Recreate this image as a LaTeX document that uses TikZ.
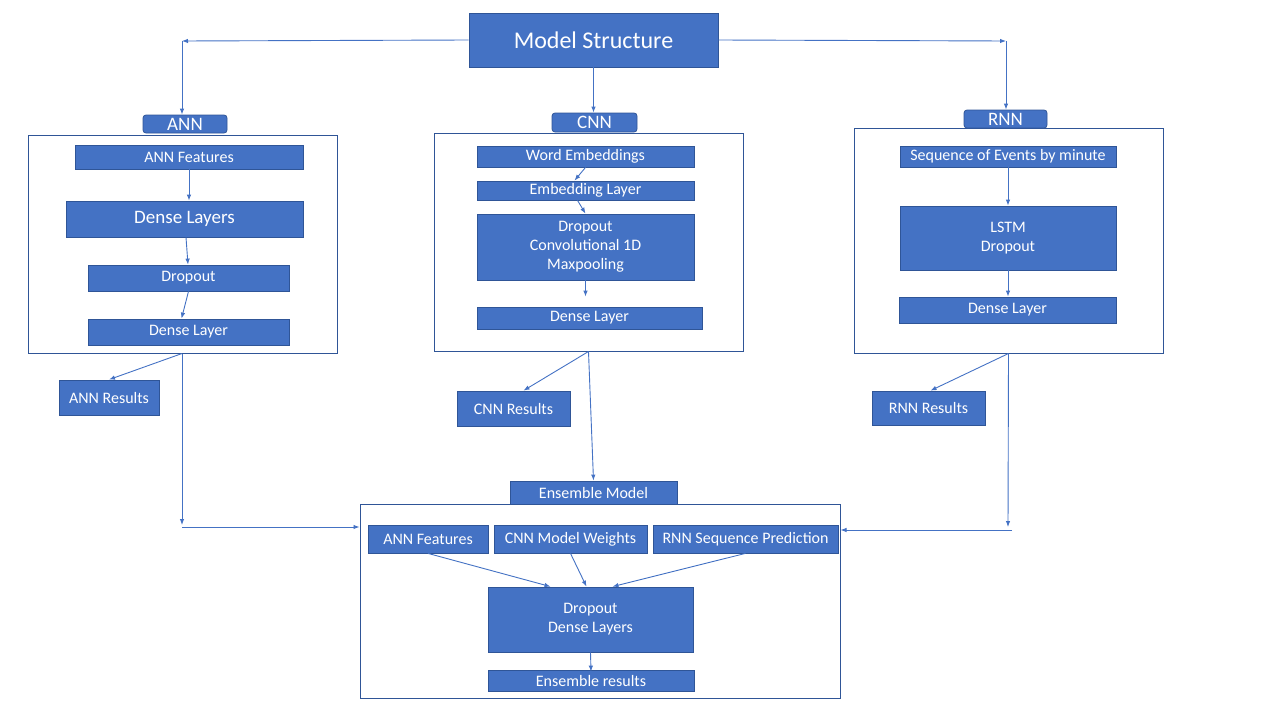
\documentclass[tikz,border=0pt]{standalone}
\usepackage{fontspec}
\setmainfont{Carlito}
\usetikzlibrary{arrows.meta}
\definecolor{boxblue}{HTML}{4472C4}
\definecolor{edgeblue}{HTML}{2F5597}
\tikzset{
  blk/.style={draw=edgeblue, fill=boxblue, text=white, line width=0.8pt, inner sep=0pt, align=center, font=\fontsize{16}{19}\selectfont},
  tab/.style={blk, rounded corners=3pt, font=\fontsize{19}{22}\selectfont},
  grp/.style={draw=edgeblue, fill=white, line width=1pt, inner sep=0pt},
  arr/.style={draw=boxblue, line width=0.9pt, -{Latex[length=6pt,width=4.5pt]}},
}
\newcommand{\blkbox}[6][blk]{\node[#1, minimum width=#4, minimum height=#5] (#2) at #3 {#6};}
\begin{document}
\begin{tikzpicture}[x=1pt, y=-1pt]
            \useasboundingbox (0,0) rectangle (1280,720);
            % top
            \blkbox[blk, font=\fontsize{24}{28}\selectfont]{model}{(593.5,40)}{249}{54}{Model Structure}
            \coordinate (cl) at (182,41);
            \coordinate (cr) at (1006,41);
            % group frames
            \node[grp, minimum width=309, minimum height=218] (annbox) at (182.5,244) {};
            \node[grp, minimum width=309, minimum height=218] (cnnbox) at (588.5,242) {};
            \node[grp, minimum width=309, minimum height=225] (rnnbox) at (1008.5,240.5) {};
            \node[grp, minimum width=480, minimum height=194] (ensbox) at (600,601) {};
            % tabs
            \blkbox[tab]{anntab}{(185,124)}{84}{18}{ANN}
            \blkbox[tab]{cnntab}{(594.5,122.5)}{85}{19}{CNN}
            \blkbox[tab]{rnntab}{(1005.5,119)}{83}{18}{RNN}
            \blkbox[blk, font=\fontsize{16}{19}\selectfont]{enstab}{(593.5,492.5)}{167}{23}{Ensemble Model}
            % ANN
            \blkbox{annfeat}{(189,157)}{228}{24}{ANN Features}
            \blkbox[blk, font=\fontsize{19}{22}\selectfont]{anndense}{(184.5,219)}{237}{36}{Dense Layers}
            \blkbox{anndrop}{(188.5,278)}{201}{26}{Dropout}
            \blkbox{annlayer}{(188.5,332)}{201}{26}{Dense Layer}
            \blkbox{annres}{(109,397.5)}{100}{35}{ANN Results}
            % CNN
            \blkbox{wordemb}{(585.5,156.5)}{217}{21}{Word Embeddings}
            \blkbox{emblayer}{(585.5,190.5)}{217}{19}{Embedding Layer}
            \blkbox{cnnconv}{(585.5,247)}{217}{66}{Dropout\\Convolutional 1D\\Maxpooling}
            \blkbox{cnnlayer}{(589.5,318)}{225}{22}{Dense Layer}
            \blkbox{cnnres}{(513.5,408.5)}{113}{35}{CNN Results}
            % RNN
            \blkbox{seq}{(1008,156.5)}{216}{21}{Sequence of Events by minute}
            \blkbox{lstm}{(1008,238)}{216}{64}{LSTM\\Dropout}
            \blkbox{rnnlayer}{(1007.5,310)}{217}{26}{Dense Layer}
            \blkbox{rnnres}{(928.5,408)}{113}{34}{RNN Results}
            % Ensemble
            \blkbox{ensann}{(428,539)}{120}{28}{ANN Features}
            \blkbox{enscnn}{(570.5,539)}{153}{28}{CNN Model Weights}
            \blkbox{ensrnn}{(745.5,539)}{185}{28}{RNN Sequence Prediction}
            \blkbox{ensdense}{(590.5,619.5)}{205}{65}{Dropout\\Dense Layers}
            \blkbox{ensres}{(591,680.5)}{206}{21}{Ensemble results}
            \coordinate (al) at (182,525);
            \coordinate (al2) at (182,527);
            \coordinate (ar) at (1008,527);
            \coordinate (ar2) at (1012,530);
            % connectors
            \draw[arr] (model.west) -- (cl);
            \draw[arr] (cl) -- (anntab.north -| cl);
            \draw[arr] (model.south) -- (cnntab.north -| model.south);
            \draw[arr] (model.east) -- (cr);
            \draw[arr] (cr) -- (rnntab.north -| cr);
            \draw[arr] (annfeat.south) -- (anndense.north -| annfeat.south);
            \draw[arr] ([xshift=1.5pt]anndense.south) -- ([xshift=-0.5pt]anndrop.north);
            \draw[arr] (anndrop.south) -- ([xshift=-7pt]annlayer.north);
            \draw[arr] ([xshift=-0.5pt]annbox.south) -- (annres.north);
            \draw[arr] ([xshift=-0.5pt]annbox.south) -- (al);
            \draw[arr] (al2) -- (ensbox.west |- al2);
            \draw[arr] (wordemb.south) -- ([xshift=-11pt]emblayer.north);
            \draw[arr] ([xshift=-8pt]emblayer.south) -- (cnnconv.north);
            \draw[arr] (cnnconv.south) -- ([yshift=10pt]cnnlayer.north -| cnnconv.south);
            \draw[arr] (cnnbox.south) -- ([xshift=10pt]cnnres.north);
            \draw[arr] (cnnbox.south) -- (enstab.north);
            \draw[arr] (seq.south) -- (lstm.north);
            \draw[arr] (lstm.south) -- (rnnlayer.north -| lstm.south);
            \draw[arr] (rnnbox.south) -- ([xshift=2pt]rnnres.north);
            \draw[arr] (rnnbox.south) -- (ar);
            \draw[arr] (ar2) -- (ensbox.east |- ar2);
            \draw[arr] (ensann.south) -- ([xshift=-40pt]ensdense.north);
            \draw[arr] (enscnn.south) -- ([xshift=-4pt]ensdense.north);
            \draw[arr] (ensrnn.south) -- ([xshift=22pt]ensdense.north);
            \draw[arr] (ensdense.south) -- ([yshift=-2pt]ensres.north);
\end{tikzpicture}
\end{document}
